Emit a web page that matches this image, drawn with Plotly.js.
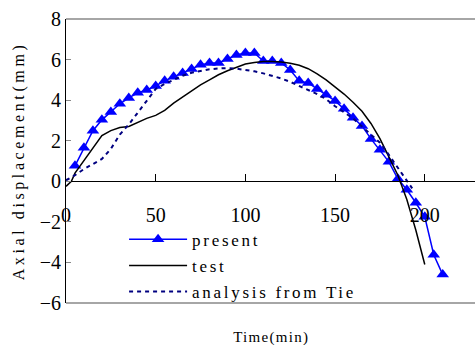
<!DOCTYPE html>
<html><head><meta charset="utf-8">
<script src="https://cdn.plot.ly/plotly-3.0.1.min.js"></script>
<style>
html,body{margin:0;padding:0;background:#fff}
#chart text.legendtext{letter-spacing:2.7px}
#chart g.legend g.scrollbox{clip-path:none !important}
#chart g.legend{clip-path:none !important}
#chart text.ytitle{letter-spacing:3.6px}
#chart g.annotation text{letter-spacing:1.3px}
</style>
</head><body><div id="chart" style="width:475px;height:345px"></div>
<script>
const presentTime = [5,10,15,20,25,30,35,40,45,50,55,60,65,70,75,80,85,90,95,100,105,110,115,120,125,130,135,140,145,150,155,160,165,170,175,180,185,190,195,200,205,210];
const presentDisp = [0.76,1.65,2.49,3.03,3.42,3.82,4.11,4.36,4.50,4.70,4.95,5.15,5.34,5.54,5.74,5.83,5.83,6.03,6.23,6.33,6.33,5.93,5.93,5.83,5.49,4.95,4.85,4.55,4.26,3.96,3.57,3.13,2.73,2.09,1.55,0.96,0.12,-0.42,-1.06,-1.75,-3.62,-4.60];

const testTime = [0,3,5,10,15,20,25,30,35,40,43,45,50,55,60,65,70,75,80,85,90,95,100,105,110,115,120,125,130,135,140,145,150,155,160,165,170,175,180,185,190,195,200];
const testDisp = [-0.25,0.0,0.4,1.0,1.6,2.25,2.5,2.65,2.7,2.9,3.0,3.1,3.25,3.5,3.85,4.15,4.45,4.75,5.0,5.25,5.45,5.62,5.78,5.86,5.9,5.9,5.88,5.82,5.72,5.55,5.3,5.0,4.65,4.3,3.9,3.45,2.85,2.1,1.2,0.3,-0.9,-2.4,-4.1];

const tieTime = [0,5,10,15,20,25,30,35,40,45,50,55,60,65,70,75,80,85,90,95,100,105,110,115,120,125,130,135,140,145,150,155,160,165,170,175,180,185,188,191,193];
const tieDisp = [0.05,0.3,0.6,0.85,1.1,1.6,2.3,2.8,3.4,4.0,4.55,4.8,5.0,5.2,5.35,5.45,5.52,5.56,5.58,5.55,5.5,5.42,5.32,5.2,5.07,4.9,4.7,4.5,4.3,4.05,3.7,3.4,3.1,2.7,2.3,1.9,1.3,0.67,0.27,-0.07,-0.35];

const xTicks = [0,50,100,150,200];
const yTicks = [-6,-4,-2,0,2,4,6,8];
const seriesNames = ['present','test','analysis from Tie'];

const traces = [
  {x: presentTime, y: presentDisp, name: seriesNames[0], type:'scatter', mode:'lines+markers',
   line:{color:'#0000ff', width:1.5}, marker:{symbol:'triangle-up', size:11, color:'#0000ff'}, legendgroup:'a'},
  {x: testTime, y: testDisp, name: seriesNames[1], type:'scatter', mode:'lines',
   line:{color:'#000000', width:1.5}, legendgroup:'b'},
  {x: tieTime, y: tieDisp, name: seriesNames[2], type:'scatter', mode:'lines',
   line:{color:'#000080', width:2, dash:'4px,4px'}, legendgroup:'c'}
];

const layout = {
  width:475, height:345,
  margin:{l:66, r:0, t:19, b:42},
  paper_bgcolor:'#fff', plot_bgcolor:'#fff',
  showlegend:true,
  legend:{x:0.142, y:0.286, xanchor:'left', yanchor:'top', bgcolor:'rgba(0,0,0,0)',
    font:{family:'Liberation Serif, serif', size:17, color:'#000'},
    traceorder:'grouped', tracegroupgap:1, itemwidth:58},
  xaxis:{range:[0,228], anchor:'free', position:6/14, tickvals:xTicks, ticktext:xTicks.map(String),
    showgrid:false, zeroline:false, showline:true, linecolor:'#000', linewidth:1,
    ticks:'inside', ticklen:7, tickcolor:'#000', ticklabelstandoff:16,
    tickfont:{family:'Liberation Serif, serif', size:20, color:'#000'}},
  yaxis:{range:[-6,8], tickvals:yTicks, showgrid:false, zeroline:false, showline:true,
    linecolor:'#000', linewidth:1, ticks:'inside', ticklen:5, tickcolor:'#888',
    tickfont:{family:'Liberation Serif, serif', size:20, color:'#000'},
    title:{text:'Axial displacement(mm)', standoff:11, font:{family:'Liberation Serif, serif', size:16, color:'#000'}}},
  shapes:[
    {type:'line', xref:'paper', yref:'paper', x0:0, x1:1, y0:1, y1:1, line:{color:'#888', width:1.5}},
    {type:'line', xref:'paper', yref:'paper', x0:0, x1:1, y0:0, y1:0, line:{color:'#888', width:1.5}}
  ],
  annotations:[
    {text:'Time(min)', xref:'paper', yref:'paper', x:0.5, y:-0.122, xanchor:'center', yanchor:'middle', showarrow:false,
     font:{family:'Liberation Serif, serif', size:15, color:'#000'}}
  ]
};

Plotly.newPlot('chart', traces, layout, {staticPlot:true, displayModeBar:false});
</script></body></html>
